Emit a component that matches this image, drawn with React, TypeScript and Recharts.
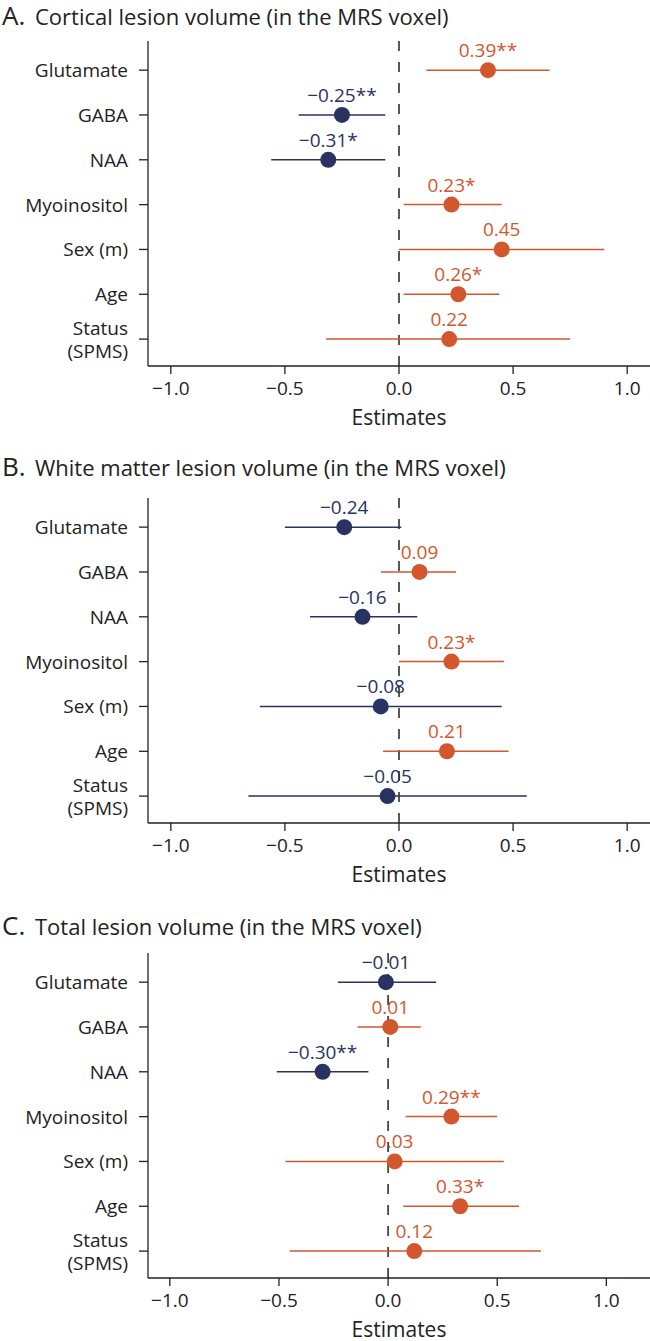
import { ScatterChart, Scatter, XAxis, YAxis, ErrorBar, ReferenceLine } from "recharts";

const categoryLines = [
  ["Glutamate"], ["GABA"], ["NAA"], ["Myoinositol"], ["Sex (m)"], ["Age"], ["Status", "(SPMS)"],
];
const xTicks = [-1, -0.5, 0, 0.5, 1];

// A. cortical lesion volume
const estA = [0.39, -0.25, -0.31, 0.23, 0.45, 0.26, 0.22];
const loA = [0.12, -0.44, -0.56, 0.02, 0.0, 0.02, -0.32];
const hiA = [0.66, -0.06, -0.06, 0.45, 0.9, 0.44, 0.75];
const starsA = ["**", "**", "*", "*", "", "*", ""];

// B. white matter lesion volume
const estB = [-0.24, 0.09, -0.16, 0.23, -0.08, 0.21, -0.05];
const loB = [-0.5, -0.08, -0.39, 0.0, -0.61, -0.07, -0.66];
const hiB = [0.01, 0.25, 0.08, 0.46, 0.45, 0.48, 0.56];
const starsB = ["", "", "", "*", "", "", ""];

// C. total lesion volume
const estC = [-0.01, 0.01, -0.3, 0.29, 0.03, 0.33, 0.12];
const loC = [-0.23, -0.14, -0.51, 0.08, -0.47, 0.07, -0.45];
const hiC = [0.22, 0.15, -0.09, 0.5, 0.53, 0.6, 0.7];
const starsC = ["", "", "**", "**", "", "*", ""];

const ORANGE = "#d2572e";
const BLUE = "#283361";
const INK = "#222";

const fmt = (v: number, d: number) => (v < 0 ? "\u2212" : "") + Math.abs(v).toFixed(d);

function buildRows(est: number[], lo: number[], hi: number[], stars: string[]) {
  return est.map((e, i) => ({
    x: e,
    y: i + 1,
    ci: [e - lo[i], hi[i] - e],
    label: fmt(e, 2) + stars[i],
  }));
}

function CatTick(props: any) {
  const { x, y, payload } = props;
  const lines = categoryLines[payload.value - 1] || [];
  if (lines.length === 1) {
    return (
      <text x={x} y={y + 7} textAnchor="end" fontSize={19} fill={INK}>{lines[0]}</text>
    );
  }
  return (
    <g>
      <text x={x} y={y - 4} textAnchor="end" fontSize={19} fill={INK}>{lines[0]}</text>
      <text x={x} y={y + 19} textAnchor="end" fontSize={19} fill={INK}>{lines[1]}</text>
    </g>
  );
}

function dotShape(color: string) {
  return (props: any) => {
    const { cx, cy, payload } = props;
    return (
      <g>
        <circle cx={cx} cy={cy} r={8} fill={color} />
        <text x={cx} y={cy - 13} textAnchor="middle" fontSize={19} fill={color}>{payload.label}</text>
      </g>
    );
  };
}

function Panel({ top, letter, title, titleY, rows, domain }: any) {
  const pos = rows.filter((r: any) => r.x >= 0);
  const neg = rows.filter((r: any) => r.x < 0);
  return (
    <div style={{ position: "absolute", left: 0, top, width: 650, height: 436 }}>
      <ScatterChart width={650} height={436} margin={{ top: 41, right: 0, left: 0, bottom: 0 }}>
        <XAxis
          type="number"
          dataKey="x"
          domain={domain}
          ticks={xTicks}
          allowDataOverflow
          tickFormatter={(v: number) => fmt(v, 1)}
          tick={{ fill: INK, fontSize: 19 }}
          tickSize={8}
          tickMargin={8}
          height={70}
          stroke={INK}
          strokeWidth={1.3}
          label={{ value: "Estimates", position: "insideBottom", offset: 11, fill: INK, fontSize: 21 }}
        />
        <YAxis
          type="number"
          dataKey="y"
          domain={[0.35, 7.6]}
          reversed
          ticks={[1, 2, 3, 4, 5, 6, 7]}
          interval={0}
          allowDataOverflow
          width={148}
          tick={<CatTick />}
          tickSize={9}
          tickMargin={11}
          stroke={INK}
          strokeWidth={1.3}
        />
        <ReferenceLine x={0} stroke={INK} strokeWidth={1.5} strokeDasharray="10 11" />
        <Scatter data={pos} fill={ORANGE} shape={dotShape(ORANGE)} isAnimationActive={false}>
          <ErrorBar dataKey="ci" direction="x" width={0} stroke={ORANGE} strokeWidth={1.5} isAnimationActive={false} />
        </Scatter>
        <Scatter data={neg} fill={BLUE} shape={dotShape(BLUE)} isAnimationActive={false}>
          <ErrorBar dataKey="ci" direction="x" width={0} stroke={BLUE} strokeWidth={1.5} isAnimationActive={false} />
        </Scatter>
      </ScatterChart>
      <svg width={650} height={36} style={{ position: "absolute", left: 0, top: 0, overflow: "visible" }}>
        <text x={2} y={titleY} fontSize={26} fill={INK}>{letter}</text>
        <text x={35} y={titleY} fontSize={22} fill={INK}>{title}</text>
      </svg>
    </div>
  );
}

export default function App() {
  return (
    <div style={{ position: "relative", width: 650, height: 1341, overflow: "hidden", fontFamily: "'Open Sans', sans-serif", background: "#fff" }}>
      <style>{`body{margin:0}`}</style>
      <Panel top={0} titleY={25} letter="A." title="Cortical lesion volume (in the MRS voxel)" rows={buildRows(estA, loA, hiA, starsA)} domain={[-1.1, 1.1]} />
      <Panel top={457} titleY={19} letter="B." title="White matter lesion volume (in the MRS voxel)" rows={buildRows(estB, loB, hiB, starsB)} domain={[-1.1, 1.1]} />
      <Panel top={912} titleY={23} letter="C." title="Total lesion volume (in the MRS voxel)" rows={buildRows(estC, loC, hiC, starsC)} domain={[-1.1, 1.2]} />
    </div>
  );
}
